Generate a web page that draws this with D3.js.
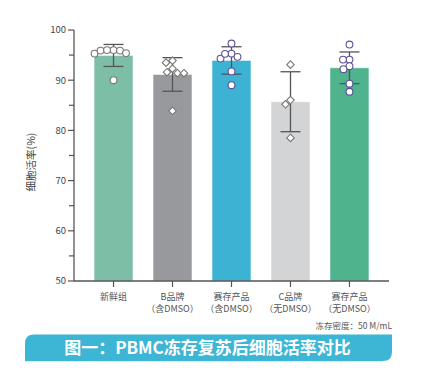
<!DOCTYPE html>
<html>
<head>
<meta charset="utf-8">
<script src="https://cdn.jsdelivr.net/npm/d3@7"></script>
<style>
  body { margin: 0; background: #fff; }
  svg { display: block; font-family: "Noto Sans CJK SC", "Noto Sans", sans-serif; }
</style>
</head>
<body>
<script>
const width = 427;
const height = 379;

// groups and raw replicate values
const groups = ["新鲜组", "B品牌", "赛存产品", "C品牌", "赛存产品"];
const subLabels = ["", "（含DMSO）", "（含DMSO）", "（无DMSO）", "（无DMSO）"];
const fresh = [96.0, 95.9, 95.4, 95.3, 95.9, 96.0, 90.0];
const brandB = [93.9, 93.5, 92.3, 91.4, 91.4, 91.6, 83.9];
const ourDmso = [97.3, 95.3, 94.65, 94.3, 95.25, 91.75, 89.0];
const brandC = [93.1, 86.05, 85.2, 78.5];
const ourFree = [97.1, 94.1, 94.1, 92.8, 92.2, 89.3, 87.7];
const yTicks = [50, 60, 70, 80, 90, 100];

const colors = ["#7dbfa6", "#98999d", "#3db3d3", "#d3d4d6", "#4fb38e"];
const pointStroke = ["#777777", "#777777", "#5f4f97", "#777777", "#5f4f97"];
const shapes = ["circle", "diamond", "circle", "diamond", "circle"];

const series = [fresh, brandB, ourDmso, brandC, ourFree];

const margin = {left: 74, right: 38, top: 30, bottom: 98};

const svg = d3.select("body").append("svg")
    .attr("width", width)
    .attr("height", height);

const x = d3.scaleBand()
    .domain(d3.range(groups.length))
    .range([margin.left, width - margin.right])
    .paddingInner(0.34)
    .paddingOuter(0.34);

const y = d3.scaleLinear()
    .domain([50, 100])
    .range([height - margin.bottom, margin.top]);

// bars
const stats = series.map(function(vals, i) {
    return {i: i, mean: d3.mean(vals), sd: d3.deviation(vals), vals: vals};
});

svg.selectAll("rect.bar")
    .data(stats)
    .enter().append("rect")
    .attr("class", "bar")
    .attr("x", d => x(d.i))
    .attr("width", x.bandwidth())
    .attr("y", d => y(d.mean))
    .attr("height", d => y(50) - y(d.mean))
    .attr("fill", d => colors[d.i])
    .attr("stroke", "#ffffff")
    .attr("stroke-opacity", 0.5)
    .attr("stroke-width", 1);

// error bars (mean ± SD)
const err = svg.append("g")
    .attr("stroke", "#555")
    .attr("stroke-width", 1.3);
stats.forEach(function(d) {
    const cx = x(d.i) + x.bandwidth() / 2;
    const top = y(d.mean + d.sd), bot = y(d.mean - d.sd);
    err.append("line").attr("x1", cx).attr("x2", cx).attr("y1", top).attr("y2", bot);
    err.append("line").attr("x1", cx - 10).attr("x2", cx + 10).attr("y1", top).attr("y2", top);
    err.append("line").attr("x1", cx - 10).attr("x2", cx + 10).attr("y1", bot).attr("y2", bot);
});

// simple beeswarm so overlapping replicates spread sideways
function swarm(vals, r) {
    const placed = [];
    const order = vals.map((v, k) => k).sort((a, b) => vals[b] - vals[a]);
    const out = new Array(vals.length);
    for (const k of order) {
        const py = y(vals[k]);
        let best = 0;
        for (let step = 0; step < 200; step++) {
            const dx = (step % 2 === 0 ? 1 : -1) * Math.ceil(step / 2) * 0.5;
            let ok = true;
            for (const p of placed) {
                if (Math.hypot(p.x - dx, p.y - py) < 2 * r) { ok = false; break; }
            }
            if (ok) { best = dx; break; }
        }
        placed.push({x: best, y: py});
        out[k] = {x: best, y: py};
    }
    return out;
}

const r = 3.4;
stats.forEach(function(d) {
    const cx = x(d.i) + x.bandwidth() / 2;
    const pos = swarm(d.vals, 3.2);
    const g = svg.append("g");
    pos.forEach(function(p) {
        if (shapes[d.i] === "circle") {
            g.append("circle")
                .attr("cx", cx + p.x).attr("cy", p.y).attr("r", r)
                .attr("fill", "#fff").attr("stroke", pointStroke[d.i]).attr("stroke-width", 1.1);
        } else {
            g.append("path")
                .attr("d", d3.symbol(d3.symbolDiamond2, 36)())
                .attr("transform", "translate(" + (cx + p.x) + "," + p.y + ")")
                .attr("fill", "#fff").attr("stroke", pointStroke[d.i]).attr("stroke-width", 1.1);
        }
    });
});

// y axis
const yAxis = svg.append("g")
    .attr("transform", "translate(" + margin.left + ",0)");
yAxis.append("line")
    .attr("x1", 0).attr("x2", 0)
    .attr("y1", y(100)).attr("y2", y(50))
    .attr("stroke", "#555").attr("stroke-width", 1.3);
yAxis.selectAll("line.minor")
    .data(d3.range(55, 100, 10))
    .enter().append("line")
    .attr("x1", -5).attr("x2", 0)
    .attr("y1", d => y(d)).attr("y2", d => y(d))
    .attr("stroke", "#555").attr("stroke-width", 1.2);
yAxis.selectAll("line.major")
    .data(yTicks)
    .enter().append("line")
    .attr("x1", -6).attr("x2", 0)
    .attr("y1", d => y(d)).attr("y2", d => y(d))
    .attr("stroke", "#555").attr("stroke-width", 1.2);
yAxis.selectAll("text")
    .data(yTicks)
    .enter().append("text")
    .attr("x", -8)
    .attr("y", d => y(d))
    .attr("dy", "0.35em")
    .attr("text-anchor", "end")
    .attr("font-size", 9.5)
    .attr("fill", "#444")
    .text(d => d);

// x axis
const xAxisY = y(50);
svg.append("line")
    .attr("x1", margin.left).attr("x2", width - margin.right)
    .attr("y1", xAxisY).attr("y2", xAxisY)
    .attr("stroke", "#555").attr("stroke-width", 1.3);
groups.forEach(function(g, i) {
    const cx = x(i) + x.bandwidth() / 2;
    svg.append("line")
        .attr("x1", cx).attr("x2", cx)
        .attr("y1", xAxisY).attr("y2", xAxisY + 6)
        .attr("stroke", "#555").attr("stroke-width", 1.2);
    svg.append("text")
        .attr("x", cx).attr("y", xAxisY + 18.5)
        .attr("text-anchor", "middle")
        .attr("font-size", 9)
        .attr("fill", "#555")
        .text(g);
    if (subLabels[i]) {
        svg.append("text")
            .attr("x", cx).attr("y", xAxisY + 31)
            .attr("text-anchor", "middle")
            .attr("font-size", 9)
            .attr("fill", "#555")
            .text(subLabels[i]);
    }
});

// y label
svg.append("text")
    .attr("transform", "translate(35,162) rotate(-90)")
    .attr("text-anchor", "middle")
    .attr("font-size", 10.5)
    .attr("fill", "#444")
    .text("细胞活率(%)");

// note
svg.append("text")
    .attr("x", 392).attr("y", 329)
    .attr("text-anchor", "end")
    .attr("font-size", 8.5)
    .attr("fill", "#555")
    .text("冻存密度：50 M/mL");

// title banner: rounded top-left and bottom-right corners
const bx0 = 25, bx1 = 392, by0 = 334.5, by1 = 361, rr = 9;
const banner = d3.path();
banner.moveTo(bx0, by1);
banner.lineTo(bx0, by0 + rr);
banner.quadraticCurveTo(bx0, by0, bx0 + rr, by0);
banner.lineTo(bx1, by0);
banner.lineTo(bx1, by1 - rr);
banner.quadraticCurveTo(bx1, by1, bx1 - rr, by1);
banner.closePath();
svg.append("path")
    .attr("d", banner.toString())
    .attr("fill", "#3db5d4");
svg.append("line")
    .attr("x1", bx0).attr("x2", bx1 - rr)
    .attr("y1", by1 + 0.5).attr("y2", by1 + 0.5)
    .attr("stroke", "#d6eef5").attr("stroke-width", 1);

svg.append("text")
    .attr("x", (bx0 + bx1) / 2 - 1)
    .attr("y", (by0 + by1) / 2)
    .attr("dy", "0.36em")
    .attr("text-anchor", "middle")
    .attr("font-size", 17)
    .attr("font-weight", "bold")
    .attr("fill", "#ffffff")
    .text("图一：PBMC冻存复苏后细胞活率对比");
</script>
</body>
</html>
